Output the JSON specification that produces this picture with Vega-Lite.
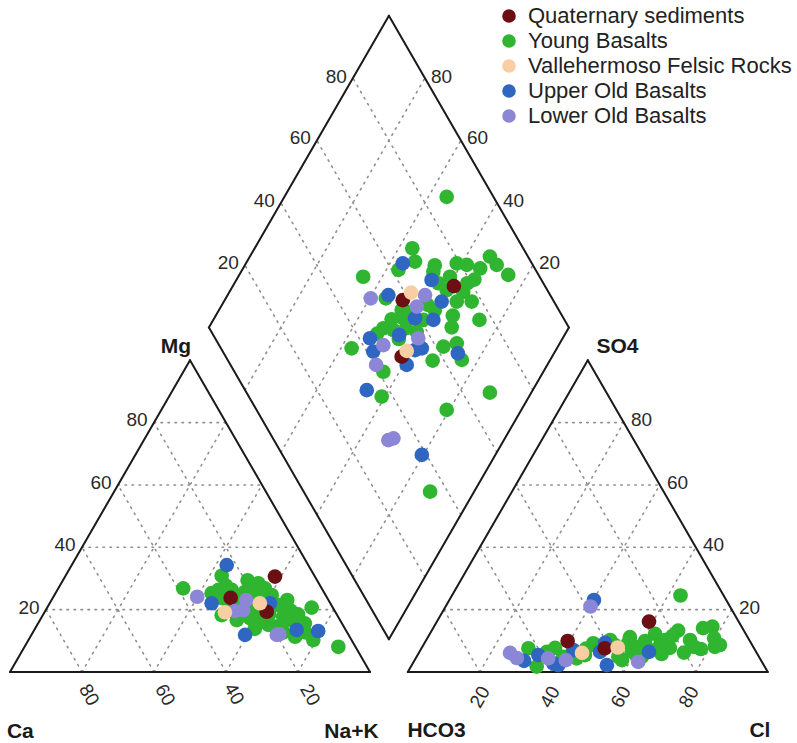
{
  "$schema": "https://vega.github.io/schema/vega-lite/v6.json",
  "autosize": {"type": "fit", "contains": "padding"},
  "width": 797,
  "height": 743,
  "padding": 0,
  "background": "white",
  "config": {
    "view": {"stroke": null},
    "font": "Liberation Sans",
    "legend": {
      "orient": "top-right",
      "offset": 5,
      "padding": 0,
      "title": null,
      "labelFont": "Liberation Sans",
      "labelFontSize": 22,
      "labelColor": "#222222",
      "labelLimit": 400,
      "labelOffset": 8,
      "rowPadding": 3,
      "symbolType": "circle",
      "symbolSize": 185,
      "symbolOpacity": 1,
      "symbolStrokeWidth": 0
    }
  },
  "datasets": {
    "outline": [
      {"x": 0, "y": 0, "x2": 100, "y2": 0},
      {"x": 0, "y": 0, "x2": 50, "y2": 86.603},
      {"x": 100, "y": 0, "x2": 50, "y2": 86.603},
      {"x": 110.5, "y": 0, "x2": 210.5, "y2": 0},
      {"x": 110.5, "y": 0, "x2": 160.5, "y2": 86.603},
      {"x": 210.5, "y": 0, "x2": 160.5, "y2": 86.603},
      {"x": 105.25, "y": 9.093, "x2": 55.25, "y2": 95.696},
      {"x": 55.25, "y": 95.696, "x2": 105.25, "y2": 182.298},
      {"x": 105.25, "y": 182.298, "x2": 155.25, "y2": 95.696},
      {"x": 155.25, "y": 95.696, "x2": 105.25, "y2": 9.093}
    ],
    "grid": [
      {"x": 10, "y": 17.32, "x2": 90, "y2": 17.32},
      {"x": 20, "y": 34.64, "x2": 80, "y2": 34.64},
      {"x": 30, "y": 51.96, "x2": 70, "y2": 51.96},
      {"x": 40, "y": 69.28, "x2": 60, "y2": 69.28},
      {"x": 20, "y": 0, "x2": 60, "y2": 69.28},
      {"x": 40, "y": 0, "x2": 70, "y2": 51.96},
      {"x": 60, "y": 0, "x2": 80, "y2": 34.64},
      {"x": 80, "y": 0, "x2": 90, "y2": 17.32},
      {"x": 20, "y": 0, "x2": 10, "y2": 17.32},
      {"x": 40, "y": 0, "x2": 20, "y2": 34.64},
      {"x": 60, "y": 0, "x2": 30, "y2": 51.96},
      {"x": 80, "y": 0, "x2": 40, "y2": 69.28},
      {"x": 120.5, "y": 17.32, "x2": 200.5, "y2": 17.32},
      {"x": 130.5, "y": 34.64, "x2": 190.5, "y2": 34.64},
      {"x": 140.5, "y": 51.96, "x2": 180.5, "y2": 51.96},
      {"x": 150.5, "y": 69.28, "x2": 170.5, "y2": 69.28},
      {"x": 130.5, "y": 0, "x2": 170.5, "y2": 69.28},
      {"x": 150.5, "y": 0, "x2": 180.5, "y2": 51.96},
      {"x": 170.5, "y": 0, "x2": 190.5, "y2": 34.64},
      {"x": 190.5, "y": 0, "x2": 200.5, "y2": 17.32},
      {"x": 130.5, "y": 0, "x2": 120.5, "y2": 17.32},
      {"x": 150.5, "y": 0, "x2": 130.5, "y2": 34.64},
      {"x": 170.5, "y": 0, "x2": 140.5, "y2": 51.96},
      {"x": 190.5, "y": 0, "x2": 150.5, "y2": 69.28},
      {"x": 115.25, "y": 26.414, "x2": 65.25, "y2": 113.017},
      {"x": 125.25, "y": 43.734, "x2": 75.25, "y2": 130.337},
      {"x": 135.25, "y": 61.055, "x2": 85.25, "y2": 147.657},
      {"x": 145.25, "y": 78.375, "x2": 95.25, "y2": 164.978},
      {"x": 95.25, "y": 26.414, "x2": 145.25, "y2": 113.017},
      {"x": 85.25, "y": 43.734, "x2": 135.25, "y2": 130.337},
      {"x": 75.25, "y": 61.055, "x2": 125.25, "y2": 147.657},
      {"x": 65.25, "y": 78.375, "x2": 115.25, "y2": 164.978}
    ],
    "labels": [
      {"pos": "right", "x": 8.2, "y": 17.9, "text": "20"},
      {"pos": "right", "x": 18.2, "y": 35.2, "text": "40"},
      {"pos": "right", "x": 28.2, "y": 52.6, "text": "60"},
      {"pos": "right", "x": 38.2, "y": 69.9, "text": "80"},
      {"pos": "left", "x": 202.5, "y": 17.9, "text": "20"},
      {"pos": "left", "x": 192.5, "y": 35.2, "text": "40"},
      {"pos": "left", "x": 182.5, "y": 52.6, "text": "60"},
      {"pos": "left", "x": 172.5, "y": 69.9, "text": "80"},
      {"pos": "right", "x": 63.55, "y": 113.6, "text": "20"},
      {"pos": "right", "x": 73.55, "y": 130.9, "text": "40"},
      {"pos": "right", "x": 83.55, "y": 148.2, "text": "60"},
      {"pos": "right", "x": 93.55, "y": 165.4, "text": "80"},
      {"pos": "left", "x": 146.95, "y": 113.6, "text": "20"},
      {"pos": "left", "x": 136.95, "y": 130.9, "text": "40"},
      {"pos": "left", "x": 126.95, "y": 148.2, "text": "60"},
      {"pos": "left", "x": 116.95, "y": 165.4, "text": "80"},
      {"pos": "rotL", "x": 21.94, "y": -6.39, "text": "80"},
      {"pos": "rotL", "x": 43.06, "y": -6.39, "text": "60"},
      {"pos": "rotL", "x": 62.22, "y": -6.1, "text": "40"},
      {"pos": "rotL", "x": 83.33, "y": -6.39, "text": "20"},
      {"pos": "rotR", "x": 130.56, "y": -6.94, "text": "20"},
      {"pos": "rotR", "x": 150.0, "y": -6.94, "text": "40"},
      {"pos": "rotR", "x": 169.72, "y": -6.94, "text": "60"},
      {"pos": "rotR", "x": 188.61, "y": -6.94, "text": "80"},
      {"pos": "corner", "x": 46.1, "y": 90.4, "text": "Mg"},
      {"pos": "corner", "x": 168.75, "y": 90.4, "text": "SO4"},
      {"pos": "corner", "x": 2.86, "y": -16.58, "text": "Ca"},
      {"pos": "corner", "x": 94.86, "y": -16.58, "text": "Na+K"},
      {"pos": "corner", "x": 118.5, "y": -16.3, "text": "HCO3"},
      {"pos": "corner", "x": 208.3, "y": -16.3, "text": "Cl"}
    ],
    "points": [
      {"g": "Young Basalts", "x": 58.8, "y": 26.75},
      {"g": "Young Basalts", "x": 48.1, "y": 23.25},
      {"g": "Young Basalts", "x": 56.0, "y": 21.9},
      {"g": "Young Basalts", "x": 57.9, "y": 22.8},
      {"g": "Young Basalts", "x": 69.0, "y": 24.6},
      {"g": "Young Basalts", "x": 70.8, "y": 23.25},
      {"g": "Young Basalts", "x": 72.7, "y": 21.4},
      {"g": "Young Basalts", "x": 58.8, "y": 15.8},
      {"g": "Young Basalts", "x": 66.7, "y": 14.9},
      {"g": "Young Basalts", "x": 69.0, "y": 14.0},
      {"g": "Young Basalts", "x": 74.5, "y": 18.6},
      {"g": "Young Basalts", "x": 76.9, "y": 17.7},
      {"g": "Young Basalts", "x": 75.9, "y": 15.4},
      {"g": "Young Basalts", "x": 78.25, "y": 14.4},
      {"g": "Young Basalts", "x": 83.8, "y": 17.9},
      {"g": "Young Basalts", "x": 81.9, "y": 13.5},
      {"g": "Young Basalts", "x": 79.2, "y": 9.8},
      {"g": "Young Basalts", "x": 84.25, "y": 8.9},
      {"g": "Young Basalts", "x": 91.2, "y": 7.0},
      {"g": "Young Basalts", "x": 63.0, "y": 14.4},
      {"g": "Young Basalts", "x": 73.6, "y": 12.6},
      {"g": "Young Basalts", "x": 65.3, "y": 22.3},
      {"g": "Young Basalts", "x": 61.6, "y": 22.8},
      {"g": "Young Basalts", "x": 71.75, "y": 13.1},
      {"g": "Young Basalts", "x": 75.5, "y": 13.1},
      {"g": "Young Basalts", "x": 67.0, "y": 20.0},
      {"g": "Young Basalts", "x": 64.0, "y": 18.0},
      {"g": "Young Basalts", "x": 61.0, "y": 19.0},
      {"g": "Young Basalts", "x": 68.0, "y": 17.0},
      {"g": "Young Basalts", "x": 72.0, "y": 16.0},
      {"g": "Young Basalts", "x": 77.0, "y": 20.0},
      {"g": "Young Basalts", "x": 80.0, "y": 16.0},
      {"g": "Young Basalts", "x": 70.0, "y": 19.5},
      {"g": "Young Basalts", "x": 66.0, "y": 25.5},
      {"g": "Young Basalts", "x": 60.0, "y": 24.0},
      {"g": "Young Basalts", "x": 63.0, "y": 21.0},
      {"g": "Young Basalts", "x": 67.0, "y": 23.0},
      {"g": "Young Basalts", "x": 70.0, "y": 21.0},
      {"g": "Young Basalts", "x": 73.0, "y": 18.5},
      {"g": "Young Basalts", "x": 78.0, "y": 17.0},
      {"g": "Young Basalts", "x": 80.0, "y": 13.0},
      {"g": "Young Basalts", "x": 76.0, "y": 11.0},
      {"g": "Young Basalts", "x": 68.0, "y": 12.0},
      {"g": "Young Basalts", "x": 62.0, "y": 17.0},
      {"g": "Young Basalts", "x": 66.0, "y": 16.5},
      {"g": "Young Basalts", "x": 82.0, "y": 11.0},
      {"g": "Young Basalts", "x": 59.0, "y": 20.5},
      {"g": "Upper Old Basalts", "x": 60.2, "y": 29.7},
      {"g": "Upper Old Basalts", "x": 56.0, "y": 19.1},
      {"g": "Upper Old Basalts", "x": 72.2, "y": 19.1},
      {"g": "Upper Old Basalts", "x": 79.6, "y": 11.7},
      {"g": "Upper Old Basalts", "x": 85.6, "y": 11.4},
      {"g": "Upper Old Basalts", "x": 65.3, "y": 10.3},
      {"g": "Quaternary sediments", "x": 73.6, "y": 26.5},
      {"g": "Quaternary sediments", "x": 61.3, "y": 20.6},
      {"g": "Quaternary sediments", "x": 71.3, "y": 16.75},
      {"g": "Lower Old Basalts", "x": 52.0, "y": 20.9},
      {"g": "Lower Old Basalts", "x": 65.6, "y": 20.0},
      {"g": "Lower Old Basalts", "x": 62.5, "y": 16.9},
      {"g": "Lower Old Basalts", "x": 64.8, "y": 17.2},
      {"g": "Lower Old Basalts", "x": 74.1, "y": 10.3},
      {"g": "Lower Old Basalts", "x": 74.8, "y": 10.5},
      {"g": "Vallehermoso Felsic Rocks", "x": 69.4, "y": 19.1},
      {"g": "Vallehermoso Felsic Rocks", "x": 59.7, "y": 16.6},

      {"g": "Young Basalts", "x": 186.25, "y": 21.25},
      {"g": "Young Basalts", "x": 195.1, "y": 12.6},
      {"g": "Young Basalts", "x": 185.6, "y": 11.5},
      {"g": "Young Basalts", "x": 195.6, "y": 9.4},
      {"g": "Young Basalts", "x": 195.8, "y": 7.0},
      {"g": "Young Basalts", "x": 191.9, "y": 6.4},
      {"g": "Young Basalts", "x": 187.2, "y": 5.4},
      {"g": "Young Basalts", "x": 183.3, "y": 6.7},
      {"g": "Young Basalts", "x": 179.2, "y": 10.6},
      {"g": "Young Basalts", "x": 176.4, "y": 8.6},
      {"g": "Young Basalts", "x": 172.2, "y": 9.7},
      {"g": "Young Basalts", "x": 172.7, "y": 5.6},
      {"g": "Young Basalts", "x": 169.0, "y": 4.25},
      {"g": "Young Basalts", "x": 162.0, "y": 8.0},
      {"g": "Young Basalts", "x": 159.7, "y": 4.7},
      {"g": "Young Basalts", "x": 157.4, "y": 3.8},
      {"g": "Young Basalts", "x": 153.7, "y": 4.25},
      {"g": "Young Basalts", "x": 149.1, "y": 5.6},
      {"g": "Young Basalts", "x": 146.3, "y": 1.5},
      {"g": "Young Basalts", "x": 144.0, "y": 6.6},
      {"g": "Young Basalts", "x": 162.5, "y": 7.5},
      {"g": "Young Basalts", "x": 171.7, "y": 8.1},
      {"g": "Young Basalts", "x": 182.0, "y": 8.9},
      {"g": "Young Basalts", "x": 175.5, "y": 4.25},
      {"g": "Young Basalts", "x": 180.6, "y": 7.5},
      {"g": "Young Basalts", "x": 188.9, "y": 8.9},
      {"g": "Young Basalts", "x": 192.5, "y": 12.2},
      {"g": "Young Basalts", "x": 197.2, "y": 7.5},
      {"g": "Young Basalts", "x": 151.4, "y": 6.7},
      {"g": "Young Basalts", "x": 166.7, "y": 8.9},
      {"g": "Young Basalts", "x": 170.0, "y": 3.3},
      {"g": "Young Basalts", "x": 178.0, "y": 6.0},
      {"g": "Young Basalts", "x": 174.0, "y": 7.0},
      {"g": "Young Basalts", "x": 168.0, "y": 7.5},
      {"g": "Young Basalts", "x": 184.0, "y": 10.0},
      {"g": "Young Basalts", "x": 190.0, "y": 7.0},
      {"g": "Young Basalts", "x": 156.0, "y": 5.0},
      {"g": "Young Basalts", "x": 160.0, "y": 6.5},
      {"g": "Young Basalts", "x": 181.0, "y": 5.0},
      {"g": "Upper Old Basalts", "x": 162.2, "y": 20.0},
      {"g": "Upper Old Basalts", "x": 177.5, "y": 5.6},
      {"g": "Upper Old Basalts", "x": 165.3, "y": 8.1},
      {"g": "Upper Old Basalts", "x": 165.8, "y": 1.9},
      {"g": "Upper Old Basalts", "x": 156.5, "y": 6.1},
      {"g": "Upper Old Basalts", "x": 152.3, "y": 1.9},
      {"g": "Upper Old Basalts", "x": 146.75, "y": 4.7},
      {"g": "Upper Old Basalts", "x": 142.8, "y": 3.1},
      {"g": "Upper Old Basalts", "x": 150.9, "y": 2.4},
      {"g": "Upper Old Basalts", "x": 163.9, "y": 5.6},
      {"g": "Lower Old Basalts", "x": 161.25, "y": 18.2},
      {"g": "Lower Old Basalts", "x": 174.5, "y": 2.8},
      {"g": "Lower Old Basalts", "x": 154.4, "y": 3.3},
      {"g": "Lower Old Basalts", "x": 149.5, "y": 3.8},
      {"g": "Lower Old Basalts", "x": 138.9, "y": 5.3},
      {"g": "Lower Old Basalts", "x": 140.8, "y": 3.9},
      {"g": "Quaternary sediments", "x": 177.5, "y": 14.0},
      {"g": "Quaternary sediments", "x": 165.2, "y": 6.6},
      {"g": "Quaternary sediments", "x": 154.9, "y": 8.6},
      {"g": "Vallehermoso Felsic Rocks", "x": 168.8, "y": 6.8},
      {"g": "Vallehermoso Felsic Rocks", "x": 158.9, "y": 5.3},

      {"g": "Young Basalts", "x": 121.3, "y": 132.0},
      {"g": "Young Basalts", "x": 111.75, "y": 117.7},
      {"g": "Young Basalts", "x": 112.5, "y": 114.0},
      {"g": "Young Basalts", "x": 107.9, "y": 111.7},
      {"g": "Young Basalts", "x": 98.1, "y": 109.8},
      {"g": "Young Basalts", "x": 117.6, "y": 111.2},
      {"g": "Young Basalts", "x": 124.1, "y": 113.5},
      {"g": "Young Basalts", "x": 126.9, "y": 113.1},
      {"g": "Young Basalts", "x": 130.6, "y": 112.1},
      {"g": "Young Basalts", "x": 133.3, "y": 115.4},
      {"g": "Young Basalts", "x": 135.2, "y": 113.1},
      {"g": "Young Basalts", "x": 138.4, "y": 110.3},
      {"g": "Young Basalts", "x": 122.2, "y": 109.8},
      {"g": "Young Basalts", "x": 121.3, "y": 106.1},
      {"g": "Young Basalts", "x": 125.9, "y": 105.6},
      {"g": "Young Basalts", "x": 128.25, "y": 102.9},
      {"g": "Young Basalts", "x": 124.1, "y": 102.9},
      {"g": "Young Basalts", "x": 104.4, "y": 103.8},
      {"g": "Young Basalts", "x": 108.8, "y": 100.6},
      {"g": "Young Basalts", "x": 109.25, "y": 98.25},
      {"g": "Young Basalts", "x": 114.8, "y": 97.8},
      {"g": "Young Basalts", "x": 130.4, "y": 97.8},
      {"g": "Young Basalts", "x": 122.7, "y": 95.75},
      {"g": "Young Basalts", "x": 103.7, "y": 95.5},
      {"g": "Young Basalts", "x": 106.5, "y": 95.0},
      {"g": "Young Basalts", "x": 94.9, "y": 89.9},
      {"g": "Young Basalts", "x": 120.4, "y": 90.4},
      {"g": "Young Basalts", "x": 124.1, "y": 91.3},
      {"g": "Young Basalts", "x": 125.5, "y": 86.7},
      {"g": "Young Basalts", "x": 117.4, "y": 86.5},
      {"g": "Young Basalts", "x": 103.7, "y": 83.4},
      {"g": "Young Basalts", "x": 133.3, "y": 77.6},
      {"g": "Young Basalts", "x": 103.25, "y": 76.5},
      {"g": "Young Basalts", "x": 121.3, "y": 72.8},
      {"g": "Young Basalts", "x": 116.7, "y": 50.1},
      {"g": "Young Basalts", "x": 118.0, "y": 100.5},
      {"g": "Young Basalts", "x": 108.0, "y": 92.5},
      {"g": "Young Basalts", "x": 110.0, "y": 95.5},
      {"g": "Young Basalts", "x": 127.0, "y": 108.0},
      {"g": "Young Basalts", "x": 119.0, "y": 108.0},
      {"g": "Young Basalts", "x": 116.0, "y": 102.0},
      {"g": "Young Basalts", "x": 111.0, "y": 100.0},
      {"g": "Young Basalts", "x": 123.0, "y": 99.0},
      {"g": "Young Basalts", "x": 106.0, "y": 98.0},
      {"g": "Young Basalts", "x": 102.0, "y": 94.0},
      {"g": "Young Basalts", "x": 113.0, "y": 94.5},
      {"g": "Young Basalts", "x": 129.0, "y": 109.0},
      {"g": "Young Basalts", "x": 118.0, "y": 113.0},
      {"g": "Upper Old Basalts", "x": 109.1, "y": 113.5},
      {"g": "Upper Old Basalts", "x": 117.1, "y": 108.9},
      {"g": "Upper Old Basalts", "x": 119.9, "y": 102.9},
      {"g": "Upper Old Basalts", "x": 105.1, "y": 104.7},
      {"g": "Upper Old Basalts", "x": 112.5, "y": 98.25},
      {"g": "Upper Old Basalts", "x": 117.6, "y": 97.8},
      {"g": "Upper Old Basalts", "x": 108.1, "y": 93.6},
      {"g": "Upper Old Basalts", "x": 100.0, "y": 92.7},
      {"g": "Upper Old Basalts", "x": 100.9, "y": 89.0},
      {"g": "Upper Old Basalts", "x": 110.2, "y": 85.3},
      {"g": "Upper Old Basalts", "x": 114.4, "y": 89.9},
      {"g": "Upper Old Basalts", "x": 112.5, "y": 89.4},
      {"g": "Upper Old Basalts", "x": 124.4, "y": 88.5},
      {"g": "Upper Old Basalts", "x": 99.1, "y": 78.3},
      {"g": "Upper Old Basalts", "x": 114.4, "y": 60.3},
      {"g": "Lower Old Basalts", "x": 115.3, "y": 104.7},
      {"g": "Lower Old Basalts", "x": 100.2, "y": 103.8},
      {"g": "Lower Old Basalts", "x": 113.0, "y": 101.5},
      {"g": "Lower Old Basalts", "x": 113.4, "y": 92.7},
      {"g": "Lower Old Basalts", "x": 103.7, "y": 90.8},
      {"g": "Lower Old Basalts", "x": 101.7, "y": 85.3},
      {"g": "Lower Old Basalts", "x": 105.1, "y": 64.4},
      {"g": "Lower Old Basalts", "x": 106.5, "y": 64.9},
      {"g": "Quaternary sediments", "x": 123.3, "y": 107.2},
      {"g": "Quaternary sediments", "x": 109.1, "y": 103.3},
      {"g": "Quaternary sediments", "x": 108.8, "y": 87.6},
      {"g": "Vallehermoso Felsic Rocks", "x": 111.4, "y": 105.4},
      {"g": "Vallehermoso Felsic Rocks", "x": 110.2, "y": 89.2}
    ]
  },
  "layer": [
    {
      "data": {"name": "grid"},
      "mark": {"type": "rule", "color": "#8f8f8f", "strokeWidth": 1.6, "strokeDash": [1.5, 5.5], "strokeCap": "round"},
      "encoding": {
        "x": {"field": "x", "type": "quantitative", "scale": {"domain": [-2.778, 218.61], "nice": false, "zero": false}, "axis": null},
        "y": {"field": "y", "type": "quantitative", "scale": {"domain": [-19.72, 186.67], "nice": false, "zero": false}, "axis": null},
        "x2": {"field": "x2"},
        "y2": {"field": "y2"}
      }
    },
    {
      "data": {"name": "outline"},
      "mark": {"type": "rule", "color": "#1a1a1a", "strokeWidth": 2, "strokeCap": "round"},
      "encoding": {
        "x": {"field": "x", "type": "quantitative", "axis": null},
        "y": {"field": "y", "type": "quantitative", "axis": null},
        "x2": {"field": "x2"},
        "y2": {"field": "y2"}
      }
    },
    {
      "data": {"name": "points"},
      "mark": {"type": "circle", "size": 215, "opacity": 1},
      "encoding": {
        "x": {"field": "x", "type": "quantitative", "axis": null},
        "y": {"field": "y", "type": "quantitative", "axis": null},
        "color": {
          "field": "g",
          "type": "nominal",
          "sort": null,
          "scale": {
            "domain": ["Quaternary sediments", "Young Basalts", "Vallehermoso Felsic Rocks", "Upper Old Basalts", "Lower Old Basalts"],
            "range": ["#6b0f12", "#2fb52f", "#f8cfa3", "#2f66c1", "#8b87d6"]
          },
          "legend": {}
        }
      }
    },
    {
      "data": {"name": "labels"},
      "transform": [{"filter": "datum.pos == 'right'"}],
      "mark": {"type": "text", "align": "right", "baseline": "middle", "fontSize": 19, "color": "#2a2a2a"},
      "encoding": {
        "x": {"field": "x", "type": "quantitative", "axis": null},
        "y": {"field": "y", "type": "quantitative", "axis": null},
        "text": {"field": "text"}
      }
    },
    {
      "data": {"name": "labels"},
      "transform": [{"filter": "datum.pos == 'left'"}],
      "mark": {"type": "text", "align": "left", "baseline": "middle", "fontSize": 19, "color": "#2a2a2a"},
      "encoding": {
        "x": {"field": "x", "type": "quantitative", "axis": null},
        "y": {"field": "y", "type": "quantitative", "axis": null},
        "text": {"field": "text"}
      }
    },
    {
      "data": {"name": "labels"},
      "transform": [{"filter": "datum.pos == 'rotL'"}],
      "mark": {"type": "text", "align": "center", "baseline": "middle", "fontSize": 19, "angle": 60, "color": "#2a2a2a"},
      "encoding": {
        "x": {"field": "x", "type": "quantitative", "axis": null},
        "y": {"field": "y", "type": "quantitative", "axis": null},
        "text": {"field": "text"}
      }
    },
    {
      "data": {"name": "labels"},
      "transform": [{"filter": "datum.pos == 'rotR'"}],
      "mark": {"type": "text", "align": "center", "baseline": "middle", "fontSize": 19, "angle": 300, "color": "#2a2a2a"},
      "encoding": {
        "x": {"field": "x", "type": "quantitative", "axis": null},
        "y": {"field": "y", "type": "quantitative", "axis": null},
        "text": {"field": "text"}
      }
    },
    {
      "data": {"name": "labels"},
      "transform": [{"filter": "datum.pos == 'corner'"}],
      "mark": {"type": "text", "align": "center", "baseline": "middle", "fontSize": 21, "fontWeight": "bold", "color": "#1a1a1a"},
      "encoding": {
        "x": {"field": "x", "type": "quantitative", "axis": null},
        "y": {"field": "y", "type": "quantitative", "axis": null},
        "text": {"field": "text"}
      }
    }
  ]
}
